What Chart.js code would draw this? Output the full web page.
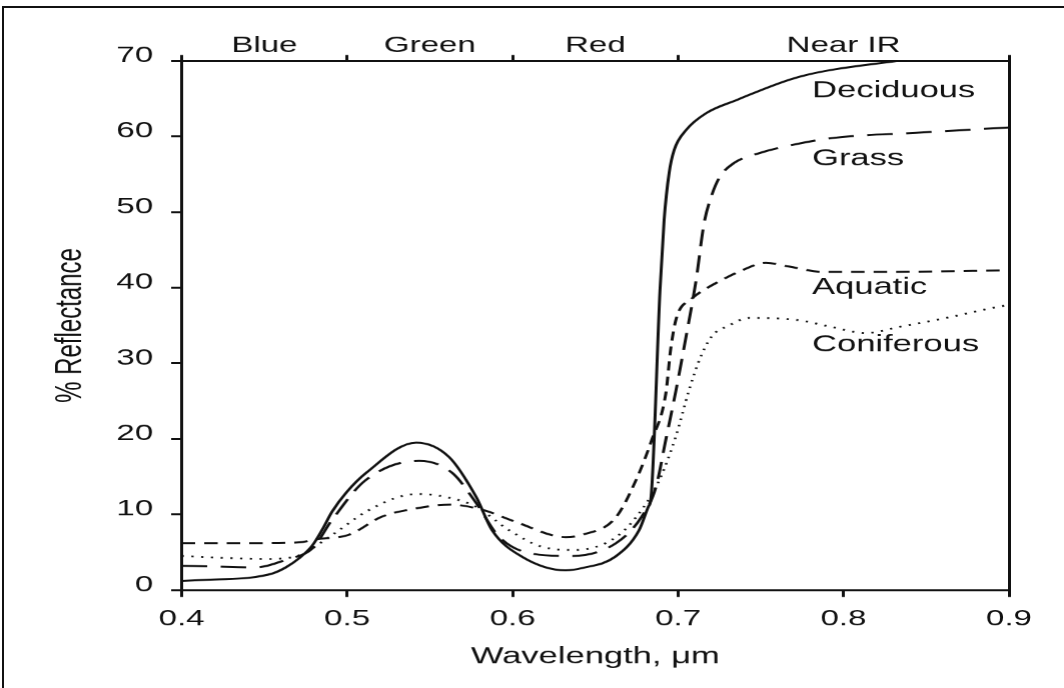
<!DOCTYPE html>
<html>
<head>
<meta charset="utf-8">
<title>Spectral reflectance of vegetation</title>
<script src="https://cdn.jsdelivr.net/npm/chart.js@4.4.1/dist/chart.umd.min.js"></script>
<style>
    html, body { margin: 0; padding: 0; background: #fff; }
    body { width: 1064px; height: 688px; overflow: hidden; position: relative; }
    #frame {
        position: absolute; left: 2px; top: 6px; right: -10px; bottom: -10px;
        border-left: 2px solid #111; border-top: 2px solid #111;
    }
    /* the reference is stretched sideways, so the whole chart is drawn narrow and widened */
    #wrap {
        position: absolute; left: 0; top: 0; width: 709px; height: 688px;
        transform: scaleX(1.5007); transform-origin: 0 0;
    }
</style>
</head>
<body>
<div id="frame"></div>
<div id="wrap"><canvas id="reflChart"></canvas></div>
<script>
const xTicks = [0.4, 0.5, 0.6, 0.7, 0.8, 0.9];
const yTicks = [0, 10, 20, 30, 40, 50, 60, 70];
const bandNames = ["Blue", "Green", "Red", "Near IR"];
const bandEdges = [0.4, 0.5, 0.6, 0.7, 0.9];
const seriesNames = ["Deciduous", "Grass", "Aquatic", "Coniferous"];

const deciduousWl = [0.400, 0.420, 0.440, 0.455, 0.463, 0.471, 0.479, 0.485, 0.491, 0.4995, 0.5115, 0.5417, 0.5616, 0.578, 0.5876, 0.6057, 0.632, 0.642, 0.662, 0.6764, 0.682, 0.6837, 0.6891, 0.6916, 0.6946, 0.6976, 0.705, 0.717, 0.735, 0.773, 0.832, 0.866, 0.900];
const deciduousPct = [1.2, 1.4, 1.6, 2.2, 3.0, 4.2, 5.9, 8.0, 10.4, 12.9, 15.5, 19.5, 17.6, 12.3, 7.9, 4.4, 2.6, 2.9, 4.4, 7.9, 11.0, 12.3, 39.7, 49.0, 55.2, 58.2, 60.9, 63.1, 64.8, 67.9, 70.0, 70.9, 71.8];

const grassWl = [0.400, 0.420, 0.445, 0.463, 0.479, 0.491, 0.511, 0.5435, 0.5635, 0.578, 0.592, 0.612, 0.636, 0.6625, 0.678, 0.6866, 0.6927, 0.6988, 0.7048, 0.7109, 0.7157, 0.7200, 0.7248, 0.7338, 0.7489, 0.7628, 0.793, 0.8438, 0.900];
const grassPct = [3.2, 3.1, 3.0, 4.0, 5.5, 9.3, 14.5, 17.1, 15.5, 11.5, 7.0, 4.8, 4.5, 6.2, 9.7, 13.6, 20.0, 26.5, 33.5, 41.0, 48.5, 52.0, 54.5, 56.5, 57.8, 58.6, 59.8, 60.5, 61.2];

const aquaticWl = [0.400, 0.440, 0.471, 0.481, 0.501, 0.521, 0.542, 0.562, 0.582, 0.602, 0.632, 0.642, 0.662, 0.6745, 0.684, 0.6926, 0.6956, 0.699, 0.708, 0.7187, 0.7228, 0.7387, 0.753, 0.767, 0.787, 0.823, 0.900];
const aquaticPct = [6.2, 6.2, 6.3, 6.7, 7.3, 9.7, 10.8, 11.3, 10.6, 9.0, 7.0, 7.3, 9.5, 14.5, 19.8, 26.0, 32.0, 36.0, 38.5, 40.1, 40.6, 42.3, 43.3, 42.8, 42.1, 42.1, 42.3];

const coniferousWl = [0.400, 0.420, 0.451, 0.471, 0.491, 0.511, 0.531, 0.5435, 0.562, 0.578, 0.598, 0.618, 0.638, 0.6625, 0.678, 0.6886, 0.6986, 0.7067, 0.713, 0.7205, 0.7308, 0.743, 0.773, 0.793, 0.8135, 0.8335, 0.864, 0.894, 0.900];
const coniferousPct = [4.5, 4.3, 4.1, 4.6, 7.3, 10.3, 12.3, 12.7, 12.2, 11.0, 7.9, 5.7, 5.3, 7.0, 10.6, 14.5, 20.3, 26.5, 30.5, 33.6, 35.0, 36.0, 35.7, 34.8, 34.0, 34.8, 36.1, 37.5, 37.7];

const ink = "#111";
const fontFamily = "'Liberation Sans', Arial, Helvetica, sans-serif";

function toPoints(wl, pct) {
    return wl.map((w, i) => ({ x: w, y: pct[i] }));
}

// curve names sit at a fixed wavelength, next to each curve
const curveLabels = {
    id: "curveLabels",
    afterDraw(chart) {
        const { ctx, scales } = chart;
        const labelWl = 0.781;
        const labelPct = [66.0, 57.0, 40.0, 32.4];
        ctx.save();
        ctx.font = `23px ${fontFamily}`;
        ctx.fillStyle = ink;
        ctx.textAlign = "left";
        ctx.textBaseline = "middle";
        seriesNames.forEach((name, i) => {
            ctx.fillText(name, scales.x.getPixelForValue(labelWl), scales.y.getPixelForValue(labelPct[i]));
        });
        ctx.restore();
    }
};

// band names centred between the top-axis ticks
const bandLabels = {
    id: "bandLabels",
    afterDraw(chart) {
        const { ctx, scales, chartArea } = chart;
        ctx.save();
        ctx.font = `22px ${fontFamily}`;
        ctx.fillStyle = ink;
        ctx.textAlign = "center";
        ctx.textBaseline = "middle";
        bandNames.forEach((name, i) => {
            const mid = (bandEdges[i] + bandEdges[i + 1]) / 2;
            ctx.fillText(name, scales.x2.getPixelForValue(mid), chartArea.top - 15);
        });
        ctx.restore();
    }
};

const lineStyles = [
    { borderDash: [], borderWidth: 2 },
    { borderDash: [17, 9], borderWidth: 2 },
    { borderDash: [9, 6], borderWidth: 2 },
    { borderDash: [1.5, 5], borderWidth: 1.8 }
];

const seriesData = [
    toPoints(deciduousWl, deciduousPct),
    toPoints(grassWl, grassPct),
    toPoints(aquaticWl, aquaticPct),
    toPoints(coniferousWl, coniferousPct)
];

const ctx = document.getElementById("reflChart").getContext("2d");

new Chart(ctx, {
    type: "line",
    data: {
        datasets: seriesNames.map((name, i) => ({
            label: name,
            data: seriesData[i],
            borderColor: ink,
            borderWidth: lineStyles[i].borderWidth,
            borderDash: lineStyles[i].borderDash,
            pointRadius: 0,
            fill: false,
            cubicInterpolationMode: "monotone"
        }))
    },
    options: {
        responsive: true,
        maintainAspectRatio: false,
        devicePixelRatio: 1.5,
        animation: false,
        layout: { padding: 0 },
        plugins: {
            legend: { display: false },
            tooltip: { enabled: false }
        },
        scales: {
            x: {
                type: "linear",
                position: "bottom",
                min: 0.4,
                max: 0.9,
                afterBuildTicks: axis => { axis.ticks = xTicks.map(v => ({ value: v })); },
                afterFit: axis => { axis.height = 98; },
                ticks: {
                    color: ink,
                    font: { family: fontFamily, size: 22 },
                    padding: 9,
                    maxRotation: 0,
                    autoSkip: false,
                    callback: v => Number(v).toFixed(1)
                },
                grid: { drawOnChartArea: false, color: ink, lineWidth: 2, tickLength: 7 },
                border: { display: true, color: ink, width: 2 },
                title: {
                    display: true,
                    text: "Wavelength, μm",
                    color: ink,
                    font: { family: fontFamily, size: 23 },
                    padding: { top: 0, bottom: 17 }
                }
            },
            x2: {
                type: "linear",
                position: "top",
                min: 0.4,
                max: 0.9,
                afterBuildTicks: axis => { axis.ticks = bandEdges.map(v => ({ value: v })); },
                afterFit: axis => { axis.height = 61; },
                ticks: { display: false },
                grid: { drawOnChartArea: false, color: ink, lineWidth: 2, tickLength: 6 },
                border: { display: true, color: ink, width: 2 }
            },
            y: {
                type: "linear",
                position: "left",
                min: 0,
                max: 70,
                afterBuildTicks: axis => { axis.ticks = yTicks.map(v => ({ value: v })); },
                afterFit: axis => { axis.width = 121; },
                ticks: {
                    color: ink,
                    font: { family: fontFamily, size: 22 },
                    padding: 12,
                    labelOffset: -5
                },
                grid: { drawOnChartArea: false, color: ink, lineWidth: 2, tickLength: 7 },
                border: { display: true, color: ink, width: 2 },
                title: {
                    display: true,
                    text: "% Reflectance",
                    color: ink,
                    font: { family: fontFamily, size: 24 },
                    padding: { top: 33, bottom: 0 }
                }
            },
            y2: {
                type: "linear",
                position: "right",
                display: true,
                min: 0,
                max: 70,
                afterFit: axis => { axis.width = 37; },
                ticks: { display: false },
                grid: { display: false },
                border: { display: true, color: ink, width: 2 }
            }
        }
    },
    plugins: [bandLabels, curveLabels]
});
</script>
</body>
</html>
